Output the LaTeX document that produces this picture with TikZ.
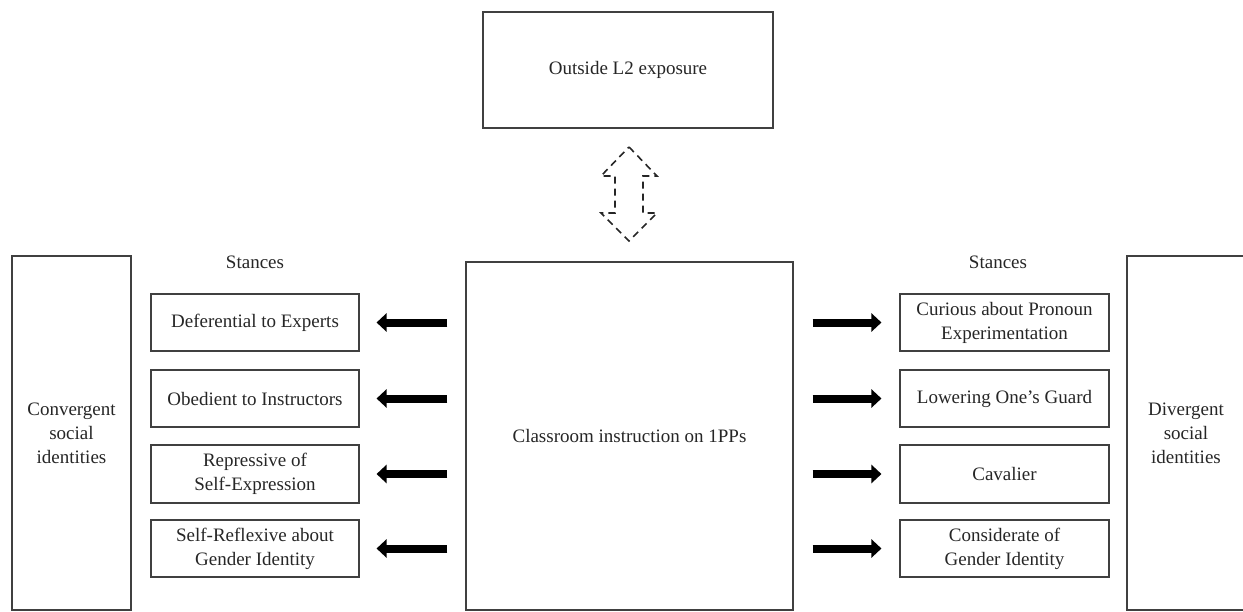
\documentclass[tikz,border=0pt]{standalone}
\usepackage{fontspec}
\setmainfont{Liberation Serif}
\usetikzlibrary{arrows.meta}
\begin{document}
\begin{tikzpicture}[x=1pt,y=-1pt,
  box/.style={draw=black!75,line width=1.1pt,rectangle,inner sep=0pt,align=center,
    text=black!85,font=\fontsize{19}{24}\selectfont},
  lbl/.style={inner sep=0pt,text=black!85,font=\fontsize{19}{24}\selectfont},
  bigarrow/.style={line width=8pt,-{Triangle[width=18pt,length=10pt]}},
  dasharrow/.style={draw=black!85,line width=1.6pt,dash pattern=on 7pt off 5pt,line join=miter}]
\useasboundingbox (0,0) rectangle (1243,611);
% top box
\node[box,minimum width=290pt,minimum height=116pt] (out) at (628,70) {Outside L2 exposure};
% center box
\node[box,minimum width=327pt,minimum height=348pt] (cls) at (629.5,436) {Classroom instruction on 1PPs};
% tall side boxes
\node[box,minimum width=119pt,minimum height=354pt] (conv) at (71.5,433) {Convergent\\social\\identities};
\node[box,minimum width=118pt,minimum height=354pt] (div) at (1186,433) {Divergent\\social\\identities};
% stances labels
\node[lbl] (sl) at (255,262) {Stances};
\node[lbl] (sr) at (998,262) {Stances};
% left stance boxes
\node[box,minimum width=208pt,minimum height=57pt] (l1) at (255,322.5) {Deferential to Experts};
\node[box,minimum width=208pt,minimum height=57pt] (l2) at (255,398.5) {Obedient to Instructors};
\node[box,minimum width=208pt,minimum height=58pt] (l3) at (255,474) {Repressive of\\Self-Expression};
\node[box,minimum width=208pt,minimum height=57pt] (l4) at (255,548.5) {Self-Reflexive about\\Gender Identity};
% right stance boxes
\node[box,minimum width=209pt,minimum height=57pt] (r1) at (1004.5,322.5) {Curious about Pronoun\\Experimentation};
\node[box,minimum width=209pt,minimum height=57pt] (r2) at (1004.5,398.5) {Lowering One’s Guard};
\node[box,minimum width=209pt,minimum height=58pt] (r3) at (1004.5,474) {Cavalier};
\node[box,minimum width=209pt,minimum height=57pt] (r4) at (1004.5,548.5) {Considerate of\\Gender Identity};
% arrows
\foreach \n in {l1,l2,l3,l4}{
  \draw[bigarrow,shorten <=18pt,shorten >=17pt] (cls.west |- \n.east) -- (\n.east);
}
\foreach \n in {r1,r2,r3,r4}{
  \draw[bigarrow,shorten <=19pt,shorten >=18pt] (cls.east |- \n.west) -- (\n.west);
}
% dashed double arrow between out and cls
\coordinate (dtop) at (629,147);
\coordinate (dbot) at (629,241);
\draw[dasharrow] (dtop) -- ++(28,29) -- ++(-14,0) -- ++(0,37) -- ++(14,0) -- (dbot)
  -- ++(-28,-28) -- ++(14,0) -- ++(0,-37) -- ++(-14,0) -- cycle;
\end{tikzpicture}
\end{document}
